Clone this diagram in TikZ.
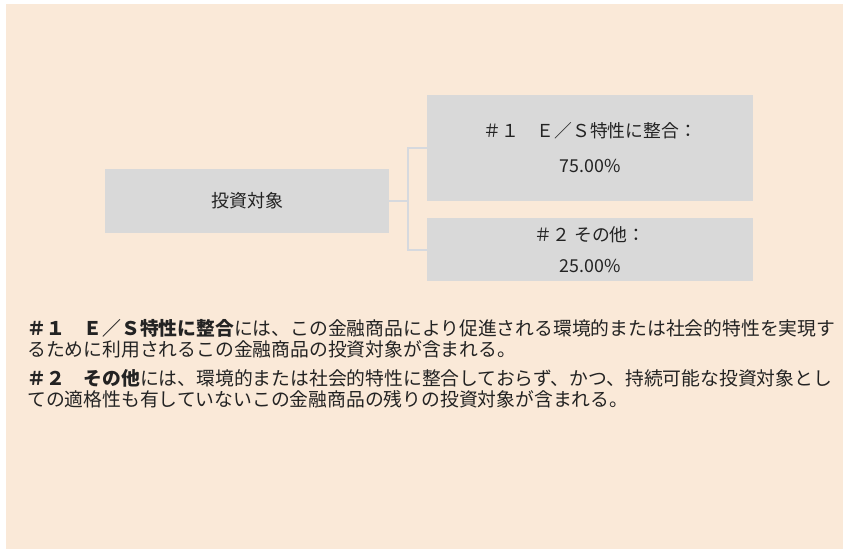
\documentclass[tikz,border=0pt]{standalone}
\usepackage{fontspec}
\setmainfont{Noto Sans CJK JP}
\usetikzlibrary{positioning}
\definecolor{bgpeach}{RGB}{250,233,216}
\definecolor{boxgray}{RGB}{217,217,217}
\definecolor{linkgray}{RGB}{214,217,222}
\definecolor{inkgray}{RGB}{35,35,35}

\begin{document}
\begin{tikzpicture}[x=1pt,y=-1pt,
  catbox/.style={fill=boxgray,draw=none,inner sep=0pt,align=center,text=inkgray},
  link/.style={draw=linkgray,line width=2pt},
  note/.style={anchor=north west,inner sep=0pt,align=left,text=inkgray,font=\fontsize{18.8}{21}\selectfont}]
\useasboundingbox (0,0) rectangle (843,549);
\fill[bgpeach] (6,4) rectangle (843,549);
% boxes
\node[catbox,minimum width=284pt,minimum height=64pt,font=\fontsize{18}{22}\selectfont] (invest) at (247,201) {投資対象};
\node[catbox,minimum width=326pt,minimum height=106pt,font=\fontsize{17.8}{35}\selectfont] (esbox) at (590,148) {＃１　Ｅ／Ｓ特性に整合：\\75.00\%};
\node[catbox,minimum width=326pt,minimum height=63pt,font=\fontsize{17.8}{31}\selectfont] (otherbox) at (590,249.5) {＃２ その他：\\25.00\%};
% connectors
\coordinate[right=19pt of invest.east] (fork);
\draw[link] (invest.east) -- (fork);
\draw[link] (esbox.west) -| (fork) |- (otherbox.west);
% notes
\node[note] (note1) at (27,319) {\textbf{＃１　Ｅ／Ｓ特性に整合}には、この金融商品により促進される環境的または社会的特性を実現す\\るために利用されるこの金融商品の投資対象が含まれる。};
\node[note] (note2) at (27,369) {\textbf{＃２　その他}には、環境的または社会的特性に整合しておらず、かつ、持続可能な投資対象とし\\ての適格性も有していないこの金融商品の残りの投資対象が含まれる。};
\end{tikzpicture}
\end{document}
